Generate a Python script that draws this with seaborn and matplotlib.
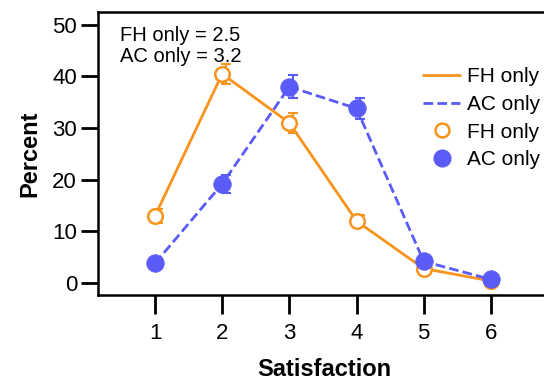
import numpy as np
import pandas as pd
import seaborn as sns
import matplotlib
matplotlib.use("Agg")
from matplotlib import pyplot as plt
from matplotlib.lines import Line2D

sns.set_style("ticks")
plt.rcParams['font.family'] = ['Liberation Sans', 'DejaVu Sans']
plt.rcParams['text.color'] = 'black'
plt.rcParams['axes.labelcolor'] = 'black'
plt.rcParams['xtick.color'] = 'black'
plt.rcParams['ytick.color'] = 'black'

satisfaction = [1, 2, 3, 4, 5, 6]
fh_only = [13.0, 40.5, 31.0, 12.0, 2.8, 0.4]
ac_only = [3.8, 19.2, 38.0, 33.8, 4.2, 0.7]
fh_err = [1.3, 2.0, 2.0, 1.2, 0.7, 0.3]
ac_err = [0.8, 1.8, 2.2, 2.0, 0.8, 0.4]

orange = "#F7941D"
blue = "#5B5BF7"

df = pd.DataFrame({
    "Satisfaction": satisfaction * 2,
    "Percent": fh_only + ac_only,
    "grupo": ["FH only"] * 6 + ["AC only"] * 6,
})

fig = plt.figure(figsize=(5.44, 3.83), dpi=100)
ax = fig.add_axes([0.180, 0.230, 0.831, 0.739])

sns.lineplot(data=df, x="Satisfaction", y="Percent", hue="grupo", style="grupo",
             palette={"FH only": orange, "AC only": blue},
             dashes={"FH only": "", "AC only": (3.5, 1.5)},
             linewidth=2, legend=False, ax=ax)

# barras de erro
ax.errorbar(np.array(satisfaction) + 0.05, fh_only, yerr=fh_err, fmt="none",
            ecolor=orange, elinewidth=1.5, capsize=3.5, capthick=1.5)
ax.errorbar(np.array(satisfaction) + 0.05, ac_only, yerr=ac_err, fmt="none",
            ecolor=blue, elinewidth=1.5, capsize=3.5, capthick=1.5)

# marcadores
sns.scatterplot(x=satisfaction, y=fh_only, ax=ax, s=110, facecolor="white",
                edgecolor=orange, linewidth=1.8, zorder=5)
sns.scatterplot(x=satisfaction, y=ac_only, ax=ax, s=160, color=blue,
                edgecolor=blue, linewidth=0.5, zorder=6)

ax.set_xlim(0.15, 6.88)
ax.set_ylim(-2.3, 52.5)
ax.set_xticks(satisfaction)
ax.set_yticks([0, 10, 20, 30, 40, 50])
ax.tick_params(axis="both", labelsize=16, width=2)
ax.tick_params(axis="y", length=12, pad=3)
ax.tick_params(axis="x", length=14, pad=6)
for s in ax.spines.values():
    s.set_linewidth(1.8)
    s.set_color("black")

ax.set_xlabel("Satisfaction", fontsize=17, fontweight="bold", labelpad=10)
ax.set_ylabel("Percent", fontsize=17, fontweight="bold", labelpad=8)

ax.text(0.048, 0.95, "FH only = 2.5\nAC only = 3.2", transform=ax.transAxes,
        fontsize=14.5, va="top", ha="left", linespacing=1.1)

handles = [
    Line2D([], [], color=orange, lw=2),
    Line2D([], [], color=blue, lw=2, dashes=(3.5, 1.5)),
    Line2D([], [], color=orange, marker="o", markerfacecolor="white",
           markeredgewidth=1.8, markersize=10, lw=0),
    Line2D([], [], color=blue, marker="o", markersize=12, lw=0),
]
ax.legend(handles, ["FH only", "AC only", "FH only", "AC only"], frameon=False,
          fontsize=15, loc="upper left", bbox_to_anchor=(0.72, 0.805),
          handlelength=1.75, labelspacing=0.42, handletextpad=0.35,
          borderaxespad=0, borderpad=0)

fig.savefig("out.png", dpi=100)
